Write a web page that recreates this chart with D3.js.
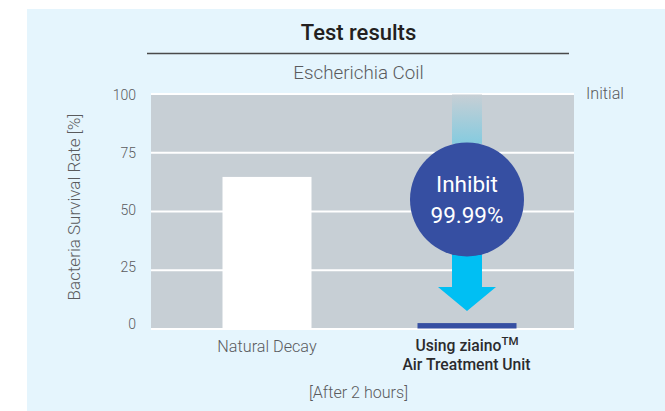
<!DOCTYPE html>
<meta charset="utf-8">

<style>
  body { margin: 0; background: #fff; }
  svg { display: block; }
  text { font-family: Roboto, "Open Sans", sans-serif; fill: #5a5b5d; }
  .axis .domain { display: none; }
  .axis text { font-size: 14px; font-weight: 300; fill: #5a5b5d; }
</style>

<body>
<svg></svg>
<script src="https://d3js.org/d3.v7.min.js"></script>

<script>
var categories = ["Natural Decay", "Using ziaino"];
var survival = [64.5, 2.3];
var yTicks = [0, 25, 50, 75, 100];

var width = 665;
var height = 411;

var svg = d3.select("svg").attr("width", width).attr("height", height);

// light blue panel behind everything
svg.append("rect")
    .attr("x", 27).attr("y", 9)
    .attr("width", width - 27).attr("height", height - 9)
    .attr("fill", "#e5f5fd");

var y = d3.scaleLinear().domain([0, 100]).range([328.5, 93.5]);
// tick labels in the original sit a bit tighter than the gridlines
var yLabel = d3.scaleLinear().domain([0, 100]).range([324, 95.5]);
var x = d3.scalePoint().domain(categories).range([267, 467]);
var barWidth = [89, 99];
var barColor = ["#ffffff", "#364fa2"];

// plot background
svg.append("rect")
    .attr("x", 151).attr("y", y(100))
    .attr("width", 423).attr("height", y(0) - y(100))
    .attr("fill", "#c7cfd5");

// gridlines + labels
svg.append("g")
    .attr("class", "axis")
    .attr("transform", "translate(151,0)")
    .call(d3.axisLeft(y).tickValues(yTicks).tickSize(-423).tickPadding(15))
    .call(function (g) {
        g.selectAll("line").attr("stroke", "#fff").attr("stroke-width", 2);
        g.selectAll("text").attr("y", function (d) { return yLabel(d) - y(d); });
    });

// arrow
var defs = svg.append("defs");
var grad = defs.append("linearGradient")
    .attr("id", "fade")
    .attr("x1", 0).attr("x2", 0).attr("y1", 0).attr("y2", 1);
grad.append("stop").attr("offset", "0%").attr("stop-color", "#c7cfd5");
grad.append("stop").attr("offset", "100%").attr("stop-color", "#85cbdf");

var cx = x(categories[1]);
svg.append("rect")
    .attr("x", cx - 15).attr("y", y(100) + 1)
    .attr("width", 30).attr("height", y(79) - y(100))
    .attr("fill", "url(#fade)");
svg.append("path")
    .attr("d", d3.line()([
        [cx - 15, y(40)], [cx + 15, y(40)], [cx + 15, y(17.7)], [cx + 29, y(17.7)],
        [cx, y(7.4)], [cx - 29, y(17.7)], [cx - 15, y(17.7)]
    ]) + "Z")
    .attr("fill", "#00bff3");

// bars
svg.selectAll(".bar")
    .data(survival)
    .enter().append("rect")
    .attr("class", "bar")
    .attr("x", function (d, i) { return x(categories[i]) - barWidth[i] / 2; })
    .attr("y", function (d) { return y(d); })
    .attr("width", function (d, i) { return barWidth[i]; })
    .attr("height", function (d) { return y(0) - y(d); })
    .attr("fill", function (d, i) { return barColor[i]; });

// circle
svg.append("circle")
    .attr("cx", cx).attr("cy", 199.5).attr("r", 57)
    .attr("fill", "#364fa2");
svg.append("text")
    .attr("x", cx).attr("y", 192)
    .attr("text-anchor", "middle")
    .style("font-size", "22.5px").style("font-weight", 400).style("fill", "#fff")
    .text("Inhibit");
svg.append("text")
    .attr("x", cx).attr("y", 223)
    .attr("text-anchor", "middle")
    .style("font-size", "22.5px").style("font-weight", 400).style("fill", "#fff")
    .text("99.99%");

// titles
svg.append("text")
    .attr("x", 358.5).attr("y", 40)
    .attr("text-anchor", "middle")
    .style("font-size", "22px").style("font-weight", 500).style("fill", "#231f20")
    .text("Test results");
svg.append("line")
    .attr("x1", 147).attr("x2", 569).attr("y1", 53.5).attr("y2", 53.5)
    .attr("stroke", "#4a4a4a").attr("stroke-width", 1.3);
svg.append("text")
    .attr("x", 358.5).attr("y", 79)
    .attr("text-anchor", "middle")
    .style("font-size", "18.8px").style("font-weight", 300)
    .text("Escherichia Coil");
svg.append("text")
    .attr("x", 586).attr("y", 99)
    .style("font-size", "16.2px").style("font-weight", 300)
    .text("Initial");
svg.append("text")
    .attr("transform", "translate(80,207)rotate(-90)")
    .attr("text-anchor", "middle")
    .style("font-size", "17px").style("font-weight", 300)
    .text("Bacteria Survival Rate [%]");

// category labels
svg.append("text")
    .attr("x", x(categories[0])).attr("y", 352)
    .attr("text-anchor", "middle")
    .style("font-size", "16.2px").style("font-weight", 300)
    .text(categories[0]);

var lab = svg.append("text")
    .attr("x", cx).attr("y", 351)
    .attr("text-anchor", "middle")
    .style("font-size", "15.7px").style("font-weight", 500).style("fill", "#2b2b2d");
lab.append("tspan").text(categories[1]);
lab.append("tspan").attr("dy", -6).style("font-size", "11.5px").text("TM");
svg.append("text")
    .attr("x", cx - 0.5).attr("y", 370)
    .attr("text-anchor", "middle")
    .style("font-size", "15.7px").style("font-weight", 500).style("fill", "#2b2b2d")
    .text("Air Treatment Unit");

svg.append("text")
    .attr("x", 358.5).attr("y", 398)
    .attr("text-anchor", "middle")
    .style("font-size", "16.1px").style("font-weight", 300)
    .text("[After 2 hours]");
</script>
</body>
